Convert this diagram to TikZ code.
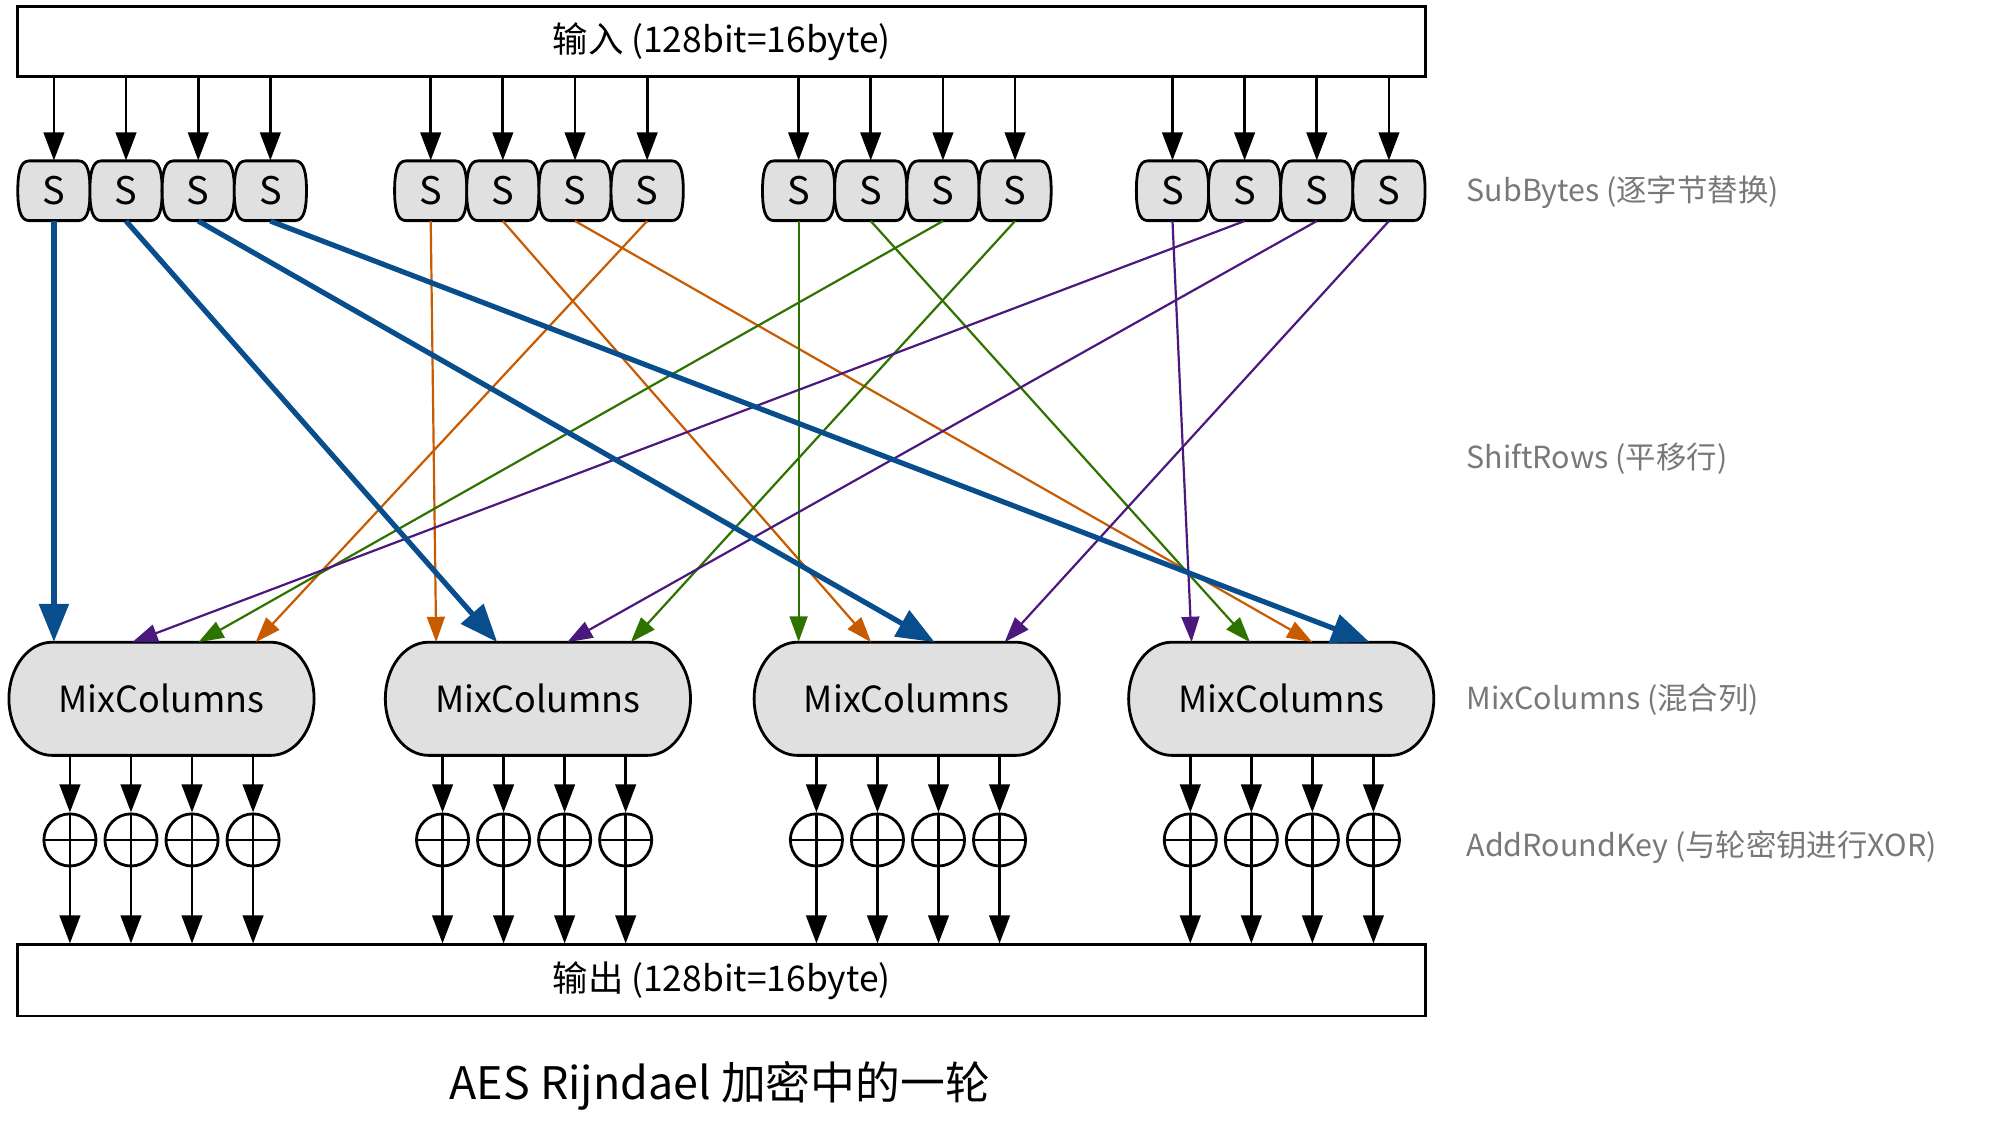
\documentclass[tikz,border=0pt]{standalone}
\usepackage{fontspec}
\setmainfont{Noto Sans CJK SC}
\usetikzlibrary{arrows.meta,calc}
\newlength\unitpx \setlength\unitpx{0.63585pt}
\definecolor{cblue}{RGB}{8,78,140}
\definecolor{corange}{RGB}{200,90,0}
\definecolor{cgreen}{RGB}{46,115,0}
\definecolor{cpurple}{RGB}{75,25,125}
\definecolor{boxgray}{RGB}{224,224,224}
\definecolor{labelgray}{RGB}{120,120,120}
\tikzset{
  bw/.style={line width=1.4pt},
  arr/.style={bw,-{Triangle[length=14pt,width=10.2pt]}},
  shiftthick/.style={line width=2.6pt,-{Triangle[length=19pt,width=14.6pt]}},
  shiftthin/.style={line width=1.1pt,-{Triangle[length=12.7pt,width=8.9pt]}},
  iobox/.style={draw,bw,minimum width=1107\unitpx,minimum height=55\unitpx,inner sep=0pt,font=\fontsize{17.7}{20}\selectfont},
  stext/.style={minimum width=56.75\unitpx,minimum height=47\unitpx,inner sep=0pt,font=\fontsize{19}{20}\selectfont},
  sshape/.style={draw,bw,fill=boxgray},
  mctext/.style={minimum width=240\unitpx,minimum height=89\unitpx,inner sep=0pt,font=\fontsize{18}{22}\selectfont},
  xorop/.style={circle,draw,bw,minimum size=41\unitpx,inner sep=0pt,
    path picture={\draw[bw] (path picture bounding box.north) -- (path picture bounding box.south)
      (path picture bounding box.west) -- (path picture bounding box.east);}},
  sidelabel/.style={anchor=west,inner sep=0pt,text=labelgray,font=\fontsize{15.2}{18}\selectfont},
  captiontext/.style={font=\fontsize{22.4}{26}\selectfont}
}
\begin{document}
\begin{tikzpicture}[x=\unitpx,y=-\unitpx]
\useasboundingbox (0,0) rectangle (1568,891);

% input / output boxes
\node[iobox] (in) at (567.5,32.5) {\raisebox{-1.3pt}{输入 (128bit=16byte)}};
\node[iobox,minimum height=56\unitpx] (out) at (567.5,771) {\raisebox{-2pt}{输出 (128bit=16byte)}};

% S boxes
\foreach \i/\cx in {1/42.4,2/99.1,3/155.9,4/212.6,5/338.7,6/395.4,7/452.2,8/508.9,
                    9/628.0,10/684.7,11/741.5,12/798.2,13/922.0,14/978.7,15/1035.5,16/1092.2}{
  \begin{scope}[shift={(\cx,150)}]
    \draw[sshape] (-19.4,-23.5) -- (19.4,-23.5)
      .. controls (26.9,-23.5) and (28.4,-13) .. (28.4,0)
      .. controls (28.4,13) and (26.9,23.5) .. (19.4,23.5)
      -- (-19.4,23.5)
      .. controls (-26.9,23.5) and (-28.4,13) .. (-28.4,0)
      .. controls (-28.4,-13) and (-26.9,-23.5) .. (-19.4,-23.5) -- cycle;
    \node[stext] (s\i) at (0,0) {S};
  \end{scope}
  \draw[arr] (in.south -| s\i) -- (s\i.north);
}

% MixColumns boxes
\foreach \j/\cx in {1/127,2/423,3/713,4/1007.5}{
  \begin{scope}[shift={(\cx,549.5)}]
    \draw[sshape] (-86,-44.5) -- (86,-44.5)
      .. controls (104.8,-44.5) and (120,-24.6) .. (120,0)
      .. controls (120,24.6) and (104.8,44.5) .. (86,44.5)
      -- (-86,44.5)
      .. controls (-104.8,44.5) and (-120,24.6) .. (-120,0)
      .. controls (-120,-24.6) and (-104.8,-44.5) .. (-86,-44.5) -- cycle;
    \node[mctext] (mc\j) at (0,0) {MixColumns};
  \end{scope}
}

% XOR circles
\foreach \k/\cx/\j in {1/55/1,2/103/1,3/151/1,4/199/1,5/348/2,6/396/2,7/444/2,8/492/2,
                       9/642/3,10/690/3,11/738/3,12/786/3,13/936/4,14/984/4,15/1032/4,16/1080/4}{
  \node[xorop] (x\k) at (\cx,660.5) {};
  \draw[arr] (mc\j.south -| x\k) -- (x\k.north);
  \draw[arr] (x\k.south) -- (out.north -| x\k);
}

% entry points on MixColumns tops
\coordinate (e12) at (104,505);
\coordinate (e13) at (156,505);
\coordinate (e14) at (201,505);
\coordinate (e21) at (343,505);
\coordinate (e22) at (391,505);
\coordinate (e23) at (446,505);
\coordinate (e24) at (496,505);
\coordinate (e32) at (685,505);
\coordinate (e33) at (735,505);
\coordinate (e34) at (790,505);
\coordinate (e41) at (937,505);
\coordinate (e42) at (983,505);
\coordinate (e43) at (1032,505);
\coordinate (e44) at (1077,505);

% ShiftRows connectors
\draw[shiftthin,corange] (s5.south) -- (e21);
\draw[shiftthin,corange] (s6.south) -- (e32);
\draw[shiftthin,corange] (s7.south) -- (e43);
\draw[shiftthin,corange] (s8.south) -- (e14);
\draw[shiftthin,cgreen] (s9.south) -- (s9.south |- mc3.north);
\draw[shiftthin,cgreen] (s10.south) -- (e42);
\draw[shiftthin,cgreen] (s11.south) -- (e13);
\draw[shiftthin,cgreen] (s12.south) -- (e24);
\draw[shiftthin,cpurple] (s13.south) -- (e41);
\draw[shiftthin,cpurple] (s14.south) -- (e12);
\draw[shiftthin,cpurple] (s15.south) -- (e23);
\draw[shiftthin,cpurple] (s16.south) -- (e34);
\draw[shiftthick,cblue] (s1.south) -- (s1.south |- mc1.north);
\draw[shiftthick,cblue] (s2.south) -- (e22);
\draw[shiftthick,cblue] (s3.south) -- (e33);
\draw[shiftthick,cblue] (s4.south) -- (e44);

% side labels
\node[sidelabel] (lsub) at (1153,151) {SubBytes (逐字节替换)};
\node[sidelabel] (lshift) at (1153,361) {ShiftRows (平移行)};
\node[sidelabel] (lmix) at (1153,550) {MixColumns (混合列)};
\node[sidelabel] (ladd) at (1153,666) {AddRoundKey (与轮密钥进行XOR)};

% caption
\node[captiontext] (cap) at (566,854) {AES Rijndael 加密中的一轮};
\end{tikzpicture}
\end{document}
